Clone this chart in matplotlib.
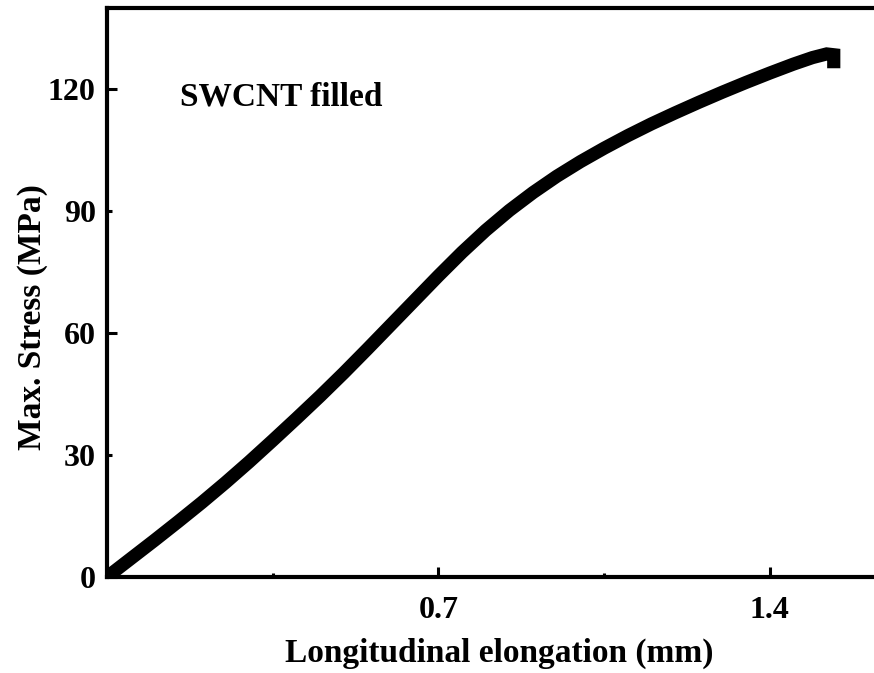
import matplotlib
matplotlib.use('Agg')
import matplotlib.pyplot as plt
from matplotlib.ticker import FixedLocator, FixedFormatter

plt.rcParams['font.family'] = ['Liberation Serif', 'DejaVu Serif']
plt.rcParams['font.weight'] = 'bold'

# tensile curve of the SWCNT filled sample
elongation = [0.0, 0.05, 0.10, 0.15, 0.20, 0.25, 0.30, 0.35, 0.40, 0.45,
              0.50, 0.55, 0.60, 0.65, 0.70, 0.75, 0.80, 0.85, 0.90, 0.95,
              1.00, 1.05, 1.10, 1.15, 1.20, 1.25, 1.30, 1.35, 1.40, 1.45,
              1.49, 1.52, 1.535, 1.535]
stress = [0.0, 4.5, 9.0, 13.6, 18.3, 23.2, 28.3, 33.6, 39.0, 44.5,
          50.2, 56.1, 62.1, 68.1, 74.1, 79.9, 85.3, 90.2, 94.6, 98.6,
          102.2, 105.5, 108.6, 111.5, 114.2, 116.8, 119.3, 121.7, 124.0, 126.2,
          127.8, 128.7, 128.5, 126.8]

x_major = [0.7, 1.4]
x_minor = [0.35, 1.05]
y_major = [0, 60, 120]
y_minor = [30, 90]

fig = plt.figure(figsize=(8.74, 6.73), dpi=100)
ax = fig.add_axes([0.1224, 0.1426, 0.8776, 0.8455])

ax.plot(elongation, stress, color='black', lw=9.5, solid_capstyle='projecting',
        solid_joinstyle='miter')

ax.set_xlim(0, 1.62)
ax.set_ylim(0, 140)

ax.xaxis.set_major_locator(FixedLocator(x_major))
ax.xaxis.set_major_formatter(FixedFormatter([str(v) for v in x_major]))
ax.xaxis.set_minor_locator(FixedLocator(x_minor))
ax.yaxis.set_major_locator(FixedLocator(y_major))
ax.yaxis.set_major_formatter(FixedFormatter([str(v) for v in y_major]))
ax.yaxis.set_minor_locator(FixedLocator(y_minor))
ax.yaxis.set_minor_formatter(FixedFormatter([str(v) for v in y_minor]))

ax.tick_params(which='both', direction='in', width=2.2, labelsize=23)
ax.tick_params(axis='x', which='major', length=7, pad=14)
ax.tick_params(axis='x', which='minor', length=3)
ax.tick_params(axis='y', which='major', length=7, pad=8)
ax.tick_params(axis='y', which='minor', length=3.6, pad=8, labelsize=23)
ax.tick_params(top=False, right=False, which='both')

for side in ['left', 'bottom', 'top']:
    ax.spines[side].set_linewidth(3)
ax.spines['right'].set_visible(False)

ax.set_xlabel('Longitudinal elongation (mm)', fontsize=24, fontweight='bold')
ax.xaxis.set_label_coords(0.512, -0.107)
ax.xaxis.label.set_va('top')
ax.set_ylabel('Max. Stress (MPa)', fontsize=24, fontweight='bold')
ax.yaxis.set_label_coords(-0.077, 0.457)

ax.text(0.154, 116.1, 'SWCNT filled', fontsize=24, fontweight='bold',
        va='baseline', ha='left')

fig.savefig('out.png', dpi=100)
